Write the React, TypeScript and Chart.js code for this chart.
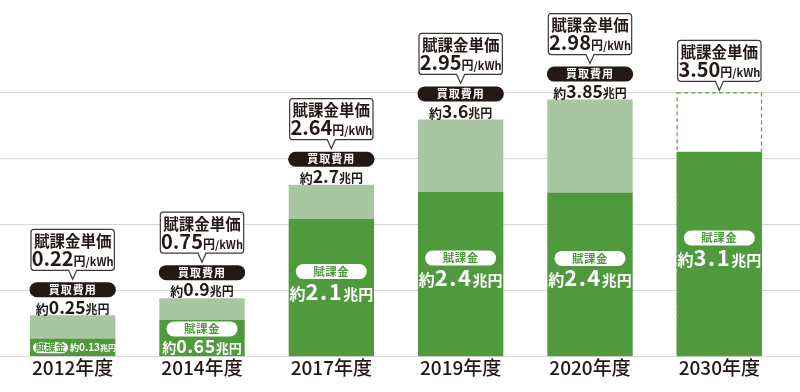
import React, { useEffect, useRef } from 'react';
import { Chart, registerables } from 'chart.js';

Chart.register(...registerables);

// ---- data ----
const categories = ['2012年度', '2014年度', '2017年度', '2019年度', '2020年度', '2030年度'];
// drawn heights of the dark (賦課金) segment, in 兆円 scale units
const levyBar = [0.27, 0.55, 2.08, 2.49, 2.48, 3.1];
// drawn heights of the light (remaining 買取費用) segment stacked above
const purchaseExtraBar = [0.35, 0.33, 0.52, 1.1, 1.41, 0.9];
// printed labels
const levyLabels = ['0.13', '0.65', '2.1', '2.4', '2.4', '3.1'];
const purchaseLabels = ['0.25', '0.9', '2.7', '3.6', '3.85', ''];
const unitPrices = ['0.22', '0.75', '2.64', '2.95', '2.98', '3.50'];
const gridValues = [0, 1, 2, 3, 4];
const projectedIndex = 5;

const FONT = "'Noto Sans CJK JP', 'Noto Sans', sans-serif";
const DARK = '#4f9a3c';
const LIGHT = '#a8c6a2';
const INK = '#231815';

type Part = { t: string; size: number; color: string; spacing?: number };

function rich(ctx: CanvasRenderingContext2D, parts: Part[], x: number, cy: number, align: 'center' | 'left' = 'center') {
  const widths = parts.map((p) => {
    ctx.font = `bold ${p.size}px ${FONT}`;
    (ctx as any).letterSpacing = `${p.spacing || 0}px`;
    return ctx.measureText(p.t).width;
  });
  const total = widths.reduce((a, b) => a + b, 0);
  const maxSize = Math.max(...parts.map((p) => p.size));
  const base = cy + maxSize * 0.36;
  let cur = align === 'center' ? x - total / 2 : x;
  ctx.textAlign = 'left';
  ctx.textBaseline = 'alphabetic';
  parts.forEach((p, i) => {
    ctx.font = `bold ${p.size}px ${FONT}`;
    (ctx as any).letterSpacing = `${p.spacing || 0}px`;
    ctx.fillStyle = p.color;
    ctx.fillText(p.t, cur, base);
    cur += widths[i];
  });
  (ctx as any).letterSpacing = '0px';
}

function pill(ctx: CanvasRenderingContext2D, cx: number, cy: number, w: number, h: number, fill: string) {
  ctx.beginPath();
  (ctx as any).roundRect(cx - w / 2, cy - h / 2, w, h, h / 2);
  ctx.fillStyle = fill;
  ctx.fill();
}

function callout(ctx: CanvasRenderingContext2D, cx: number, bottom: number, w: number, price: string) {
  const h = 41;
  const top = bottom - h;
  const left = cx - w / 2;
  const r = 3;
  ctx.beginPath();
  ctx.moveTo(left + r, top);
  ctx.lineTo(left + w - r, top);
  ctx.arcTo(left + w, top, left + w, top + r, r);
  ctx.lineTo(left + w, bottom - r);
  ctx.arcTo(left + w, bottom, left + w - r, bottom, r);
  ctx.lineTo(cx + 4, bottom);
  ctx.lineTo(cx, bottom + 9);
  ctx.lineTo(cx - 4, bottom);
  ctx.lineTo(left + r, bottom);
  ctx.arcTo(left, bottom, left, bottom - r, r);
  ctx.lineTo(left, top + r);
  ctx.arcTo(left, top, left + r, top, r);
  ctx.closePath();
  ctx.fillStyle = '#ffffff';
  ctx.fill();
  ctx.strokeStyle = '#3a3a3a';
  ctx.lineWidth = 1.2;
  ctx.stroke();
  rich(ctx, [{ t: '賦課金単価', size: 15.5, color: INK }], cx, top + 12);
  rich(ctx, [
    { t: price, size: 20, color: INK },
    { t: '円', size: 12, color: INK },
    { t: '/kWh', size: 11, color: INK },
  ], cx, top + 29.5);
}

const gridPlugin = {
  id: 'fullGrid',
  beforeDatasetsDraw(chart: any) {
    const { ctx, scales } = chart;
    ctx.save();
    ctx.strokeStyle = '#d6d6d6';
    ctx.lineWidth = 1;
    gridValues.forEach((v) => {
      const y = Math.round(scales.y.getPixelForValue(v)) + 0.5;
      ctx.beginPath();
      ctx.moveTo(0, y);
      ctx.lineTo(chart.width, y);
      ctx.stroke();
    });
    ctx.restore();
  },
};

const labelPlugin = {
  id: 'barLabels',
  afterDatasetsDraw(chart: any) {
    const { ctx, scales } = chart;
    const metaL = chart.getDatasetMeta(0);
    const metaP = chart.getDatasetMeta(1);
    const base = scales.y.getPixelForValue(0);
    ctx.save();
    categories.forEach((_, i) => {
      const lev = metaL.data[i];
      const pur = metaP.data[i];
      const cx = lev.x;
      const w = lev.width;
      const darkTop = lev.y;
      const T = pur.y;
      if (i === projectedIndex) {
        ctx.save();
        ctx.setLineDash([4, 3]);
        ctx.strokeStyle = '#5aa548';
        ctx.lineWidth = 1.3;
        ctx.strokeRect(cx - w / 2 + 0.5, T + 0.5, w - 1, base - T - 1);
        ctx.restore();
        callout(ctx, cx, T - 11, w - 2, unitPrices[i]);
      } else {
        callout(ctx, cx, T - 45, w - 2, unitPrices[i]);
        pill(ctx, cx, T - 25.5, w + 1, 15, INK);
        rich(ctx, [{ t: '買取費用', size: 11, color: '#ffffff', spacing: 1 }], cx, T - 25.5);
        rich(ctx, [
          { t: '約', size: 13, color: INK },
          { t: purchaseLabels[i], size: 17.5, color: INK },
          { t: '兆円', size: 12, color: INK },
        ], cx, T - 8);
      }
      const darkH = base - darkTop;
      if (darkH < 25) {
        const left = cx - w / 2 + 3;
        pill(ctx, left + 17.5, base - 8.5, 35, 11, '#ffffff');
        rich(ctx, [{ t: '賦課金', size: 10, color: DARK }], left + 17.5, base - 8.5);
        rich(ctx, [
          { t: '約', size: 9, color: '#ffffff' },
          { t: levyLabels[i], size: 10, color: '#ffffff' },
          { t: '兆円', size: 8, color: '#ffffff' },
        ], left + 37, base - 9, 'left');
      } else {
        let pc: number, tc: number;
        if (darkH < 60) {
          pc = darkTop + 9;
          tc = darkTop + 27;
        } else {
          const mid = (darkTop + base) / 2;
          pc = mid - 16;
          tc = mid + 4;
        }
        pill(ctx, cx, pc, 71, 15, '#ffffff');
        rich(ctx, [{ t: '賦課金', size: 11.5, color: DARK, spacing: 0.5 }], cx, pc);
        const big = darkH >= 60;
        rich(ctx, [
          { t: '約', size: big ? 16 : 14, color: '#ffffff' },
          { t: levyLabels[i], size: big ? 22 : 18, color: '#ffffff', spacing: big ? 1.5 : 0.5 },
          { t: '兆円', size: big ? 15 : 13, color: '#ffffff' },
        ], cx, tc);
      }
    });
    ctx.restore();
  },
};

export default function App() {
  const ref = useRef<HTMLCanvasElement | null>(null);
  useEffect(() => {
    if (!ref.current) return;
    const chart = new Chart(ref.current, {
      type: 'bar',
      data: {
        labels: categories,
        datasets: [
          {
            label: '賦課金',
            data: levyBar,
            backgroundColor: DARK,
            borderWidth: 0,
            stack: 's',
          },
          {
            label: '買取費用',
            data: purchaseExtraBar,
            backgroundColor: categories.map((_, i) => (i === projectedIndex ? 'rgba(0,0,0,0)' : LIGHT)),
            borderWidth: 0,
            stack: 's',
          },
        ],
      },
      options: {
        responsive: false,
        animation: false,
        devicePixelRatio: 1,
        barPercentage: 0.66,
        categoryPercentage: 1,
        layout: { padding: { left: 8, right: 16, top: 0, bottom: 13 } },
        plugins: { legend: { display: false }, tooltip: { enabled: false } },
        scales: {
          x: {
            stacked: true,
            grid: { display: false, drawTicks: false },
            border: { display: false },
            ticks: {
              color: INK,
              padding: 0,
              font: { family: FONT, size: 19, weight: '500' },
            },
          },
          y: {
            stacked: true,
            display: false,
            min: 0,
            max: 5.4,
          },
        },
      },
      plugins: [gridPlugin, labelPlugin],
    } as any);
    return () => chart.destroy();
  }, []);
  return (
    <div style={{ position: 'fixed', left: 0, top: 0, width: 800, height: 392, background: '#fff' }}>
      <canvas ref={ref} width={800} height={392} style={{ width: 800, height: 392 }} />
    </div>
  );
}
